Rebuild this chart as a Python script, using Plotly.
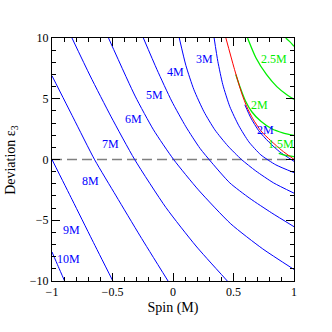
import plotly.graph_objects as go

# ---- data (spin a [M], deviation eps3) ----
# blue: ISCO radius contours
r10_spin = [-1.0, -0.948, -0.896]
r10_dev = [-7.61, -8.81, -10.0]
r9_spin = [-1.0, -0.833, -0.668, -0.497]
r9_dev = [0.0, -3.32, -6.62, -10.0]
r8_spin = [-1.0, -0.824, -0.647, -0.470, -0.272, -0.041]
r8_dev = [6.89, 3.43, -0.03, -3.0, -6.29, -10.0]
r7_spin = [-0.835, -0.684, -0.511, -0.317, -0.058, 0.190, 0.449]
r7_dev = [10.0, 6.87, 3.51, 0.0, -3.96, -7.12, -10.0]
r6_spin = [-0.533, -0.313, -0.161, 0.005, 0.210, 0.478, 0.742, 1.0]
r6_dev = [10.0, 5.22, 2.44, 0.0, -2.50, -5.30, -7.36, -9.05]
r5_spin = [-0.245, -0.132, -0.011, 0.107, 0.223, 0.322, 0.470, 0.635, 0.816, 1.0]
r5_dev = [10.0, 7.39, 4.81, 2.69, 0.92, -0.28, -1.93, -3.20, -4.40, -5.53]
r4_spin = [0.052, 0.107, 0.173, 0.256, 0.346, 0.453, 0.566, 0.684, 0.832, 1.0]
r4_dev = [10.0, 7.72, 5.74, 3.93, 2.44, 1.12, 0.0, -0.94, -1.93, -2.77]
r3_spin = [0.340, 0.371, 0.412, 0.470, 0.544, 0.627, 0.726, 0.850, 1.0]
r3_dev = [10.0, 8.05, 6.15, 4.34, 2.78, 1.45, 0.38, -0.44, -1.08]
r2_spin = [0.594, 0.643, 0.709, 0.791, 0.882, 1.0]
r2_dev = [4.50, 3.43, 2.36, 1.45, 0.63, -0.15]

# red boundary
red_spin = [0.437, 0.503, 0.569, 0.610, 0.660, 0.726, 0.809, 0.899, 1.0]
red_dev = [10.0, 7.60, 5.41, 4.34, 3.35, 2.36, 1.54, 0.75, 0.01]

# green contours
g3_spin = [0.932, 0.965, 1.0]
g3_dev = [10.0, 9.70, 9.32]
g25_spin = [0.616, 0.684, 0.772, 0.858, 0.938, 1.0]
g25_dev = [10.0, 8.40, 7.0, 6.0, 5.35, 4.95]
g2_spin = [0.519, 0.556, 0.598, 0.651, 0.726, 0.816, 0.907, 1.0]
g2_dev = [7.0, 5.90, 4.83, 3.93, 3.14, 2.53, 2.20, 1.99]
g15_spin = [0.874, 0.932, 1.0]
g15_dev = [0.51, 0.34, 0.24]

# contour labels
blue_labels = ["10M", "9M", "8M", "7M", "6M", "5M", "4M", "3M", "2M"]
blue_lab_x = [-0.86, -0.843, -0.681, -0.518, -0.324, -0.155, 0.022, 0.263, 0.764]
blue_lab_y = [-8.19, -5.77, -1.74, 1.27, 3.31, 5.31, 7.24, 8.28, 2.40]
green_labels = ["2.5M", "2M", "1.5M"]
green_lab_x = [0.838, 0.715, 0.892]
green_lab_y = [8.28, 4.46, 1.29]

# axis ticks
x_ticks = [-1, -0.5, 0, 0.5, 1]
x_ticktext = ["\u22121", "\u22120.5", "0", "0.5", "1"]
y_ticks = [-10, -5, 0, 5, 10]
y_ticktext = ["\u221210", "\u22125", "0", "5", "10"]

BLUE = "#0000ff"
GREEN = "#00ee00"
RED = "#ff0000"
FONT = "Liberation Serif"

fig = go.Figure()

# dashed zero line
fig.add_trace(go.Scatter(x=[-1, 1], y=[0, 0], mode="lines",
                         line=dict(color="#808080", width=1.5, dash="10px,5px"),
                         hoverinfo="skip"))

blue_curves = [(r10_spin, r10_dev), (r9_spin, r9_dev), (r8_spin, r8_dev),
               (r7_spin, r7_dev), (r6_spin, r6_dev), (r5_spin, r5_dev),
               (r4_spin, r4_dev), (r3_spin, r3_dev), (r2_spin, r2_dev)]
for xs, ys in blue_curves:
    fig.add_trace(go.Scatter(x=xs, y=ys, mode="lines",
                             line=dict(color=BLUE, width=1.0, shape="spline", smoothing=0.6)))

for xs, ys in [(g3_spin, g3_dev), (g25_spin, g25_dev), (g2_spin, g2_dev), (g15_spin, g15_dev)]:
    fig.add_trace(go.Scatter(x=xs, y=ys, mode="lines",
                             line=dict(color=GREEN, width=1.3, shape="spline", smoothing=0.6)))

fig.add_trace(go.Scatter(x=red_spin, y=red_dev, mode="lines",
                         line=dict(color=RED, width=1.0, shape="spline", smoothing=0.6)))

for t, x, y in zip(blue_labels, blue_lab_x, blue_lab_y):
    fig.add_annotation(x=x, y=y, text=t, showarrow=False,
                       font=dict(family=FONT, size=12, color=BLUE))
for t, x, y in zip(green_labels, green_lab_x, green_lab_y):
    fig.add_annotation(x=x, y=y, text=t, showarrow=False,
                       font=dict(family=FONT, size=12, color=GREEN))

# y-axis title placed as rotated text left of the tick labels
fig.add_annotation(xref="paper", yref="paper", x=-0.168, y=0.5,
                   xanchor="center", yanchor="middle", textangle=-90,
                   text="Deviation \u03b5<sub>3</sub>", showarrow=False,
                   font=dict(family=FONT, size=14, color="black"))

axis_common = dict(showgrid=False, zeroline=False, showline=True, linecolor="black",
                   linewidth=1, mirror="allticks", ticks="inside", ticklen=8,
                   tickcolor="black", tickwidth=1, automargin=False,
                   tickfont=dict(family=FONT, size=12, color="black"))

fig.update_layout(
    width=332, height=332,
    margin=dict(l=52, r=38, t=38, b=51),
    paper_bgcolor="white", plot_bgcolor="white",
    showlegend=False,
    xaxis=dict(range=[-1, 1], tickvals=x_ticks, ticktext=x_ticktext,
               minor=dict(dtick=0.1, ticks="inside", ticklen=4, tickcolor="black"),
               title=dict(text="Spin (M)", font=dict(family=FONT, size=14, color="black"), standoff=3),
               **axis_common),
    yaxis=dict(range=[-10, 10], tickvals=y_ticks, ticktext=y_ticktext,
               minor=dict(dtick=1, ticks="inside", ticklen=4, tickcolor="black"),
               **axis_common),
)

fig.write_html("out.html", config={"displayModeBar": False},
               post_script="document.body.style.margin='0';document.body.style.padding='0';"
                           "document.body.style.overflow='hidden';")
